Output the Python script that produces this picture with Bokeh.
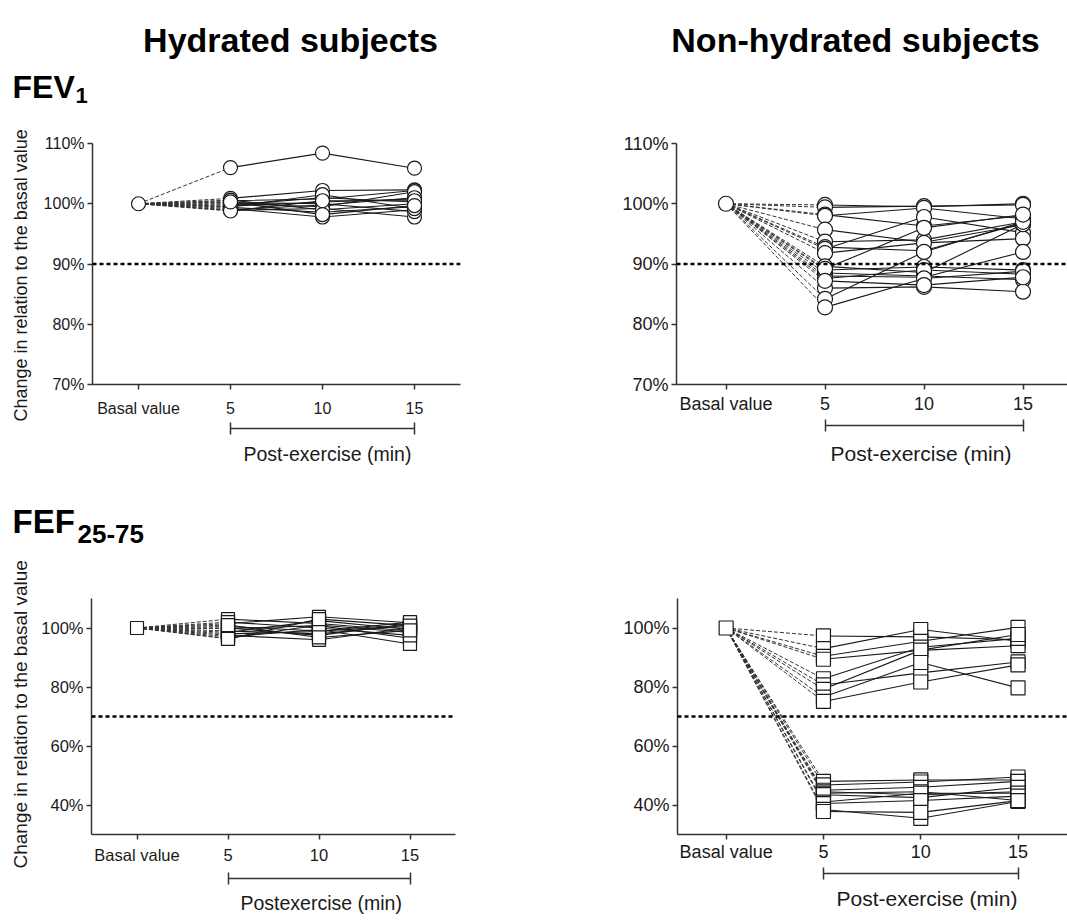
from bokeh.plotting import figure
from bokeh.models import Range1d, FixedTicker, LinearAxis, Span, Title
from bokeh.layouts import column, row
from bokeh.embed import file_html
from bokeh.resources import INLINE
from bokeh.core.properties import value

# ---------------- data ----------------
time_labels = ["Basal value", "5", "10", "15"]
time_pos = [0, 1, 2, 3]
basal = 100.0

fev_ticks = [70, 80, 90, 100, 110]
fef_ticks = [40, 60, 80, 100]
fev_threshold = 90
fef_threshold = 70

# Hydrated subjects, FEV1 (% of basal) at 5, 10, 15 min post-exercise
hyd_fev1_5 = [106.0, 100.9, 100.5, 100.0, 99.6, 99.2, 98.9, 99.8, 99.4, 100.2, 99.0, 100.6, 99.5, 98.8, 100.3]
hyd_fev1_10 = [108.4, 102.2, 100.8, 99.5, 100.3, 97.8, 99.2, 101.0, 98.6, 100.0, 99.8, 99.0, 101.5, 100.5, 98.2]
hyd_fev1_15 = [105.9, 102.3, 102.2, 102.0, 100.8, 99.0, 97.8, 100.3, 99.5, 98.7, 101.0, 100.0, 99.2, 100.5, 99.7]

# Non-hydrated subjects, FEV1
nh_fev1_5 = [99.8, 99.4, 98.2, 98.0, 95.7, 93.7, 92.8, 92.5, 91.8, 89.6, 89.0, 88.5, 88.0, 87.6, 86.0, 84.2, 82.8, 89.2, 87.2]
nh_fev1_10 = [99.5, 99.6, 96.3, 99.3, 93.6, 94.0, 92.2, 97.8, 93.5, 88.6, 89.5, 88.0, 87.8, 89.0, 86.2, 92.0, 87.6, 96.0, 86.5]
nh_fev1_15 = [100.0, 99.8, 98.0, 97.5, 96.5, 97.0, 96.8, 95.2, 94.2, 96.6, 89.0, 87.4, 92.0, 88.3, 85.4, 97.0, 88.8, 98.2, 87.8]

# Hydrated subjects, FEF25-75
hyd_fef_5 = [103.0, 101.5, 100.5, 99.8, 99.0, 98.5, 97.5, 97.0, 96.5, 100.0, 102.0, 98.0, 96.3, 101.0]
hyd_fef_10 = [101.5, 103.8, 99.0, 100.8, 98.0, 102.5, 96.0, 99.5, 101.0, 97.5, 100.0, 98.8, 103.0, 96.8]
hyd_fef_15 = [99.0, 101.8, 100.5, 96.5, 101.0, 99.5, 100.0, 94.6, 98.5, 101.5, 97.5, 102.0, 100.8, 99.2]

# Non-hydrated subjects, FEF25-75
nh_fef_5 = [97.3, 93.0, 90.4, 89.4, 82.8, 80.7, 79.2, 76.6, 75.1, 48.0, 46.8, 45.0, 44.5, 44.0, 43.5, 41.0, 40.5, 38.5, 37.8]
nh_fef_10 = [97.0, 99.5, 95.5, 92.4, 93.5, 84.8, 92.5, 88.3, 81.7, 48.5, 47.8, 46.0, 43.5, 44.5, 42.5, 44.0, 41.5, 35.5, 37.5]
nh_fef_15 = [96.0, 95.5, 100.2, 94.0, 96.5, 88.5, 97.8, 79.7, 87.5, 48.5, 49.5, 48.0, 44.5, 41.5, 46.0, 44.0, 43.0, 41.2, 41.5]

# ---------------- text ----------------
col_titles = ["Hydrated subjects", "Non-hydrated subjects"]
y_title = "Change in relation to the basal value"
post_titles = ["Post-exercise (min)", "Post-exercise (min)", "Postexercise (min)", "Post-exercise (min)"]

# ---------------- layout geometry (page pixels) ----------------
FONT = "Liberation Sans, Arial, Helvetica, sans-serif"
INK = "#1a1a1a"
PAGE_W = 1067
TOP_H = 110
MID_H = 76

G1 = dict(x0=0, y0=110, W=568, H=368, fl=92, fr=460, ft=143, fb=390, xr=(-0.5, 3.5), yr=(70, 110))
G2 = dict(x0=568, y0=110, W=499, H=368, fl=676, fr=1067, ft=122, fb=384,
          xr=(-0.5, -0.5 + (1067 - 676) / 99.0), yr=(70, 110))
G3 = dict(x0=0, y0=554, W=568, H=366, fl=91, fr=455, ft=598, fb=840, xr=(-0.5, 3.5), yr=(30, 110))
G4 = dict(x0=568, y0=554, W=499, H=366, fl=677, fr=1067, ft=575, fb=836,
          xr=(-0.5, -0.5 + (1067 - 677) / 97.3), yr=(30, 110))


def make_panel(g, v5, v10, v15, marker, msize, yticks, thr, tfs, std, ext_px,
               post_title, post_fs, post_offset, post_standoff,
               ytitle=None, ytitle_fs=18, ytitle_offset=0, ytitle_standoff=10):
    p = figure(width=g["W"], height=g["H"], x_range=Range1d(*g["xr"]), y_range=Range1d(*g["yr"]),
               output_backend="svg", toolbar_location=None, tools="",
               min_border_left=g["fl"] - g["x0"], min_border_right=g["x0"] + g["W"] - g["fr"],
               min_border_top=g["ft"] - g["y0"], min_border_bottom=g["y0"] + g["H"] - g["fb"])
    p.outline_line_color = None
    p.xgrid.visible = False
    p.ygrid.visible = False
    p.background_fill_color = "white"
    p.border_fill_color = "white"

    xa = p.below[0]
    ya = p.left[0]
    for ax in (xa, ya):
        ax.minor_tick_line_color = None
        ax.major_tick_out = 5
        ax.major_tick_in = 0
        ax.axis_line_width = 1.5
        ax.axis_line_color = "#333333"
        ax.major_tick_line_width = 1.5
        ax.major_tick_line_color = "#333333"
        ax.major_label_text_font = FONT
        ax.major_label_text_font_size = f"{tfs}px"
        ax.major_label_text_color = INK
    xa.ticker = FixedTicker(ticks=time_pos)
    xa.major_label_overrides = {t: s for t, s in zip(time_pos, time_labels)}
    xa.major_label_standoff = std
    xa.axis_label = " "
    xa.axis_label_standoff = 0
    xa.axis_label_text_font_size = f"{ext_px}px"
    ya.ticker = FixedTicker(ticks=yticks)
    ya.major_label_overrides = {t: f"{t}%" for t in yticks}
    ya.major_label_standoff = 3

    # bracket marking the post-exercise period (5 to 15 min)
    ba = LinearAxis(ticker=FixedTicker(ticks=[time_pos[1], time_pos[3]]),
                    bounds=(time_pos[1], time_pos[3]))
    ba.major_tick_in = 6
    ba.major_tick_out = 6
    ba.minor_tick_line_color = None
    ba.major_label_text_font_size = "0px"
    ba.major_label_text_alpha = 0
    ba.major_label_standoff = 0
    ba.axis_line_width = 1.5
    ba.axis_line_color = "#333333"
    ba.major_tick_line_width = 1.5
    ba.major_tick_line_color = "#333333"
    p.add_layout(ba, "below")

    p.add_layout(Title(text=post_title, align="left", offset=post_offset, vertical_align="middle",
                       standoff=post_standoff, text_font=FONT, text_font_size=f"{post_fs}px",
                       text_font_style="normal", text_color=INK), "below")
    if ytitle:
        p.add_layout(Title(text=ytitle, align="left", offset=ytitle_offset, vertical_align="middle",
                           standoff=ytitle_standoff, text_font=FONT, text_font_size=f"{ytitle_fs}px",
                           text_font_style="normal", text_color=INK), "left")

    p.add_layout(Span(location=thr, dimension="width", line_color="black",
                      line_width=2.5, line_dash="4 3"))

    n = len(v5)
    p.segment(x0=[time_pos[0]] * n, y0=[basal] * n, x1=[time_pos[1]] * n, y1=v5,
              line_color="#333333", line_width=1, line_dash="4 2")
    p.multi_line(xs=[time_pos[1:] for _ in range(n)],
                 ys=[[a, b, c] for a, b, c in zip(v5, v10, v15)],
                 line_color=INK, line_width=1.1)
    for xpos, vals in ((time_pos[1], v5), (time_pos[2], v10), (time_pos[3], v15)):
        p.scatter(x=[xpos] * n, y=vals, marker=marker, size=msize,
                  fill_color="white", line_color=INK, line_width=1.2)
    p.scatter(x=[time_pos[0]], y=[basal], marker=marker, size=msize,
              fill_color="white", line_color=INK, line_width=1.2)
    return p


def text_strip(height, items):
    """A bare strip (no axes) whose coordinates are page pixels, for headings."""
    s = figure(width=PAGE_W, height=height, x_range=Range1d(0, PAGE_W), y_range=Range1d(height, 0),
               output_backend="svg", toolbar_location=None, tools="",
               x_axis_location=None, y_axis_location=None, min_border=0)
    s.outline_line_color = None
    s.xgrid.visible = False
    s.ygrid.visible = False
    for (x, y, t, fs, align) in items:
        s.text(x=[x], y=[y], text=[t], text_font=value(FONT), text_font_size=value(f"{fs}px"),
               text_font_style="bold", text_align=align, text_baseline="alphabetic",
               text_color="black")
    return s


p1 = make_panel(G1, hyd_fev1_5, hyd_fev1_10, hyd_fev1_15, "circle", 14, fev_ticks, fev_threshold,
                16, 10, 5, post_titles[0], 19.5, 151, 13.6,
                ytitle=y_title, ytitle_fs=18, ytitle_offset=-37, ytitle_standoff=18)
p2 = make_panel(G2, nh_fev1_5, nh_fev1_10, nh_fev1_15, "circle", 15, fev_ticks, fev_threshold,
                18, 4, 5.25, post_titles[1], 21, 154, 17.8)
p3 = make_panel(G3, hyd_fef_5, hyd_fef_10, hyd_fef_15, "square", 13, fef_ticks, fef_threshold,
                16.5, 6, 7.75, post_titles[2], 19.5, 149, 11.6,
                ytitle=y_title, ytitle_fs=19, ytitle_offset=-34, ytitle_standoff=13)
p4 = make_panel(G4, nh_fef_5, nh_fef_10, nh_fef_15, "square", 14, fef_ticks, fef_threshold,
                18, 2, 5.4, post_titles[3], 21, 159, 11.8)

head_top = text_strip(TOP_H, [
    (290, 39, col_titles[0], 34, "center"),
    (855, 39, col_titles[1], 34, "center"),
    (12, 86, "FEV", 32, "left"),
    (75, 95, "1", 22, "left"),
])
head_mid = text_strip(MID_H, [
    (12, 521 - 478, "FEF", 33, "left"),
    (77, 533 - 478, "25-75", 26, "left"),
])

layout = column(head_top, row(p1, p2), head_mid, row(p3, p4))
open("out.html", "w").write(file_html(layout, INLINE))
